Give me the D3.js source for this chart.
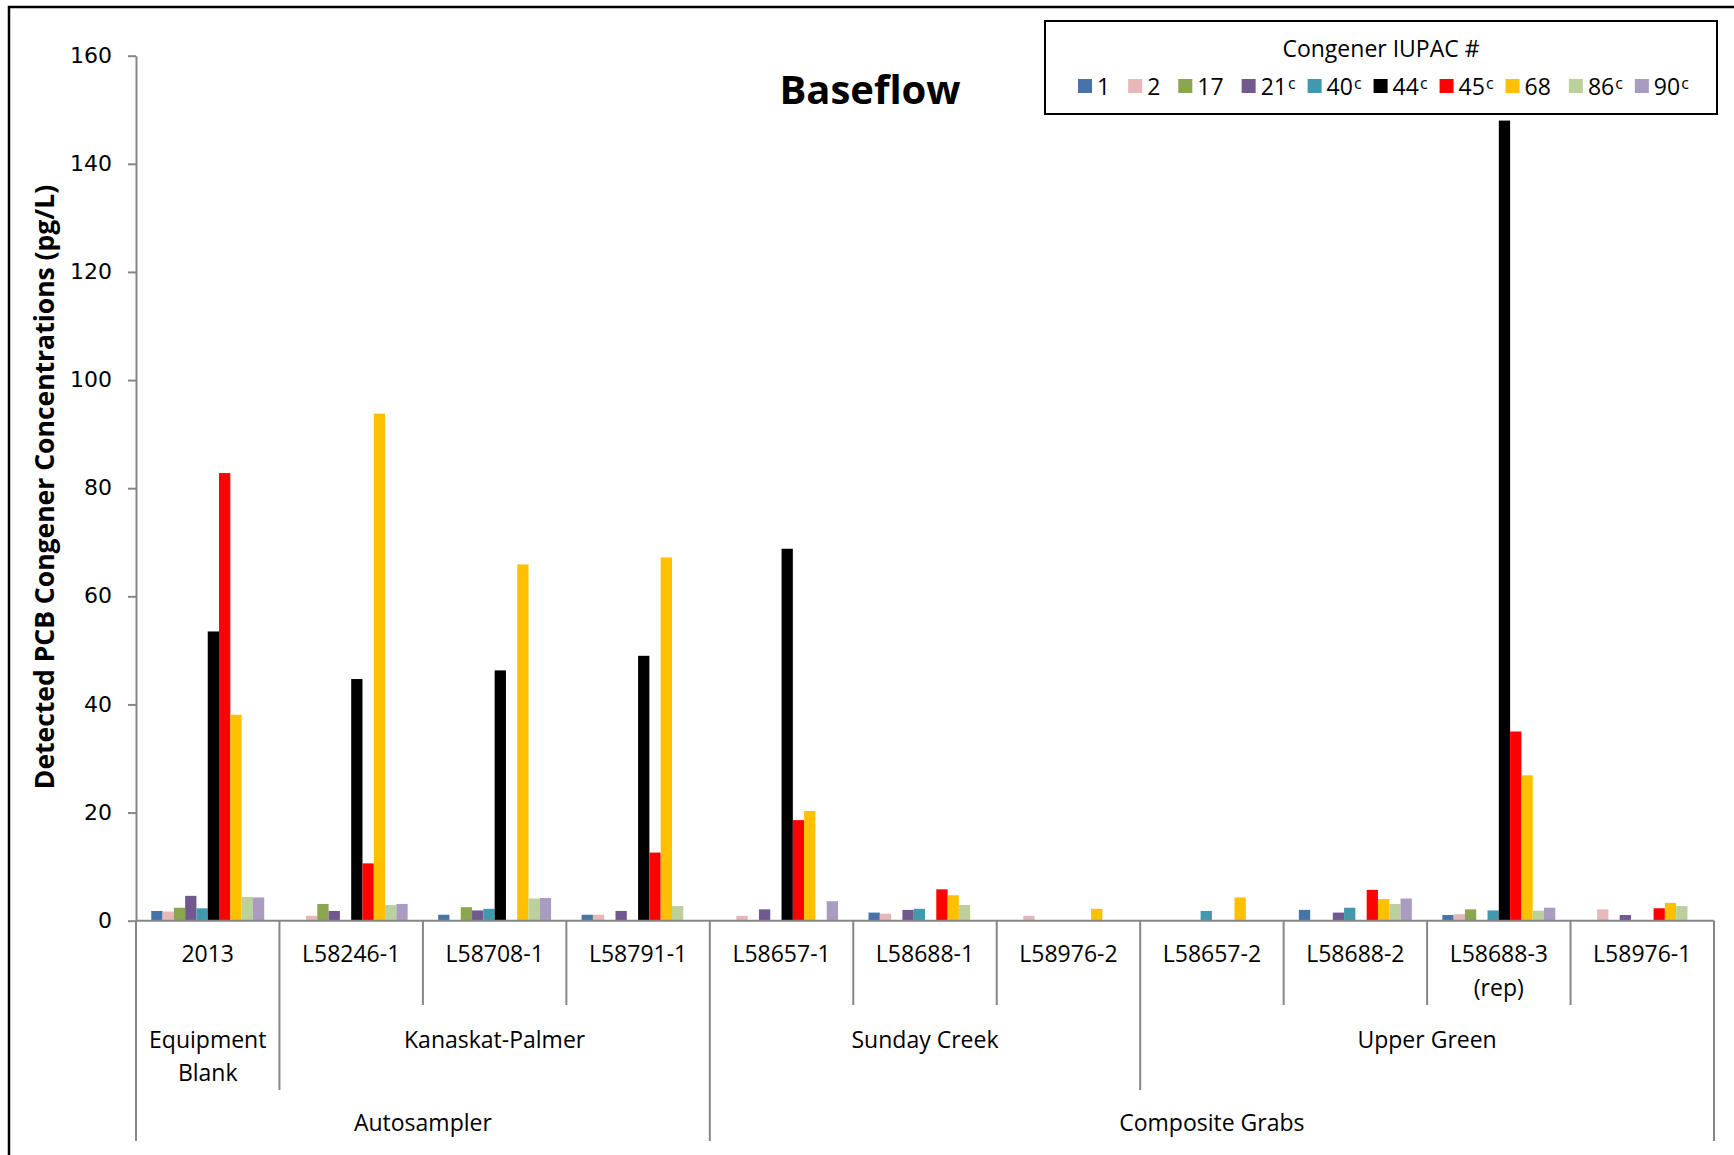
<!DOCTYPE html>
<html lang="en">
  <head>
    <meta charset="utf-8" />
    <title>Baseflow</title>
    <script type="text/javascript" src="https://d3js.org/d3.v7.min.js" charset="utf-8"></script>
    <style type="text/css">
      body { margin: 0; background: #fff; }
      text { font-family: "Open Sans", "Noto Sans", sans-serif; fill: #000; }
      .axis text { font-family: "DejaVu Sans", Verdana, sans-serif; font-size: 22px; }
      .axis path, .axis line { stroke: #868686; stroke-width: 2px; }
    </style>
  </head>
  <body>
    <script type="text/javascript">
      // sample labels (level 1), site groups (level 2), sampling method (level 3)
      var categories = ["2013", "L58246-1", "L58708-1", "L58791-1", "L58657-1", "L58688-1",
                        "L58976-2", "L58657-2", "L58688-2", "L58688-3 (rep)", "L58976-1"];
      var sites = [
        { name: "Equipment Blank", from: 0, to: 1 },
        { name: "Kanaskat-Palmer", from: 1, to: 4 },
        { name: "Sunday Creek", from: 4, to: 7 },
        { name: "Upper Green", from: 7, to: 11 }
      ];
      var methods = [
        { name: "Autosampler", from: 0, to: 4 },
        { name: "Composite Grabs", from: 4, to: 11 }
      ];

      var congeners = ["1", "2", "17", "21", "40", "44", "45", "68", "86", "90"];
      var coeluting = [false, false, false, true, true, true, true, false, true, true];
      var colours = ["#4674AA", "#E6B8B7", "#8AA64E", "#71598F", "#4298AF", "#000000",
                     "#FF0000", "#FFC000", "#BBD09A", "#AA9CC1"];

      // concentrations in pg/L, one array per congener, null = not detected
      var c1  = [1.8, null, 1.1, 1.1, null, 1.5, null, null, 2.0, 1.05, null];
      var c2  = [1.7, 0.9, null, 1.1, 0.9, 1.3, 0.9, null, null, 1.2, 2.1];
      var c17 = [2.4, 3.1, 2.5, null, null, null, null, null, null, 2.1, null];
      var c21 = [4.6, 1.8, 1.9, 1.8, 2.1, 2.0, null, null, 1.5, null, 1.05];
      var c40 = [2.3, null, 2.2, null, null, 2.2, null, 1.8, 2.4, 1.9, null];
      var c44 = [53.5, 44.7, 46.3, 49.0, 68.8, null, null, null, null, 148, null];
      var c45 = [82.8, 10.6, null, 12.6, 18.6, 5.8, null, null, 5.7, 35.0, 2.3];
      var c68 = [38.1, 93.8, 65.9, 67.2, 20.3, 4.7, 2.2, 4.3, 4.0, 26.9, 3.3];
      var c86 = [4.4, 2.9, 4.1, 2.7, null, 2.9, null, null, 3.1, 1.85, 2.7];
      var c90 = [4.3, 3.1, 4.2, null, 3.6, null, null, null, 4.1, 2.4, null];

      var yTicks = [0, 20, 40, 60, 80, 100, 120, 140, 160];

      var series = [c1, c2, c17, c21, c40, c44, c45, c68, c86, c90];

      var W = 1734, H = 1155;
      var plot = { left: 136, right: 1714, top: 55.7, bottom: 920.7 };

      var svg = d3.select("body").append("svg")
        .attr("width", W)
        .attr("height", H);

      // chart area frame (only left and top edges visible)
      svg.append("rect")
        .attr("x", 9).attr("y", 7)
        .attr("width", 1900).attr("height", 1300)
        .attr("fill", "none")
        .attr("stroke", "#000")
        .attr("stroke-width", 2.5);

      var x0 = d3.scaleBand()
        .domain(d3.range(categories.length))
        .range([plot.left, plot.right])
        .padding(0);

      var x1 = d3.scaleBand()
        .domain(congeners)
        .range([0, x0.bandwidth()])
        .paddingInner(0)
        .paddingOuter(1.35);

      var y = d3.scaleLinear()
        .domain([0, 160])
        .range([plot.bottom, plot.top]);

      // bars
      var bars = [];
      series.forEach(function (vals, k) {
        vals.forEach(function (v, i) {
          if (v != null) bars.push({ cat: i, congener: congeners[k], colour: colours[k], value: v });
        });
      });

      svg.append("g")
        .selectAll("rect")
        .data(bars)
        .join("rect")
        .attr("x", d => x0(d.cat) + x1(d.congener))
        .attr("y", d => y(d.value))
        .attr("width", x1.bandwidth())
        .attr("height", d => y(0) - y(d.value))
        .attr("fill", d => d.colour);

      // y axis
      var gY = svg.append("g")
        .attr("class", "axis")
        .attr("transform", `translate(${plot.left},0)`)
        .call(d3.axisLeft(y).tickValues(yTicks).tickSize(8).tickSizeOuter(0).tickPadding(16));
      gY.selectAll("text").attr("dy", "0.3em");

      // horizontal axis line
      svg.append("line")
        .attr("x1", plot.left).attr("x2", plot.right)
        .attr("y1", y(0)).attr("y2", y(0))
        .attr("stroke", "#868686").attr("stroke-width", 2);

      // multi-level category table below the axis
      var lvlEnd = [1005, 1090, 1141];
      var boundaries = d3.range(categories.length + 1).map(function (b) {
        var depth = lvlEnd[0];
        if (sites.some(s => s.from === b || s.to === b)) depth = lvlEnd[1];
        if (methods.some(m => m.from === b || m.to === b)) depth = lvlEnd[2];
        return { b: b, depth: depth };
      });
      var bx = b => (b < categories.length ? x0(b) : plot.right);

      svg.append("g")
        .selectAll("line")
        .data(boundaries)
        .join("line")
        .attr("x1", d => bx(d.b)).attr("x2", d => bx(d.b))
        .attr("y1", y(0)).attr("y2", d => d.depth)
        .attr("stroke", "#868686")
        .attr("stroke-width", 2);

      function multiLine(g, lines, cx, cy, lh) {
        var t = g.append("text")
          .attr("text-anchor", "middle")
          .attr("font-size", 23)
          .attr("dominant-baseline", "central");
        lines.forEach(function (ln, j) {
          t.append("tspan").attr("x", cx).attr("y", cy + j * lh).text(ln);
        });
      }

      var gLab = svg.append("g");
      categories.forEach(function (c, i) {
        var lines = c.indexOf(" (") > 0 ? [c.split(" ")[0], c.split(" ")[1]] : [c];
        multiLine(gLab, lines, x0(i) + x0.bandwidth() / 2, 953, 34);
      });
      sites.forEach(function (s) {
        var cx = (bx(s.from) + bx(s.to)) / 2;
        var lines = (s.to - s.from === 1) ? s.name.split(" ") : [s.name];
        multiLine(gLab, lines, cx, 1039, 33);
      });
      methods.forEach(function (m) {
        multiLine(gLab, [m.name], (bx(m.from) + bx(m.to)) / 2, 1122, 32);
      });

      // y axis title
      svg.append("text")
        .attr("transform", "translate(44,487) rotate(-90)")
        .attr("text-anchor", "middle")
        .attr("dominant-baseline", "central")
        .attr("font-size", 26.5)
        .attr("font-weight", "bold")
        .text("Detected PCB Congener Concentrations (pg/L)");

      // chart title
      svg.append("text")
        .attr("x", 870).attr("y", 104)
        .attr("text-anchor", "middle")
        .attr("font-size", 40)
        .attr("font-weight", "bold")
        .text("Baseflow");

      // legend
      var leg = svg.append("g");
      leg.append("rect")
        .attr("x", 1045).attr("y", 21)
        .attr("width", 672).attr("height", 93)
        .attr("fill", "#fff")
        .attr("stroke", "#000")
        .attr("stroke-width", 2);
      leg.append("text")
        .attr("x", 1381).attr("y", 48)
        .attr("text-anchor", "middle")
        .attr("dominant-baseline", "central")
        .attr("font-size", 23)
        .text("Congener IUPAC #");

      var cursor = 1078;
      congeners.forEach(function (c, k) {
        var item = leg.append("g");
        item.append("rect")
          .attr("x", cursor).attr("y", 79)
          .attr("width", 14).attr("height", 14)
          .attr("fill", colours[k]);
        var t = item.append("text")
          .attr("x", cursor + 19).attr("y", 95)
          .attr("font-size", 23);
        t.append("tspan").text(c);
        if (coeluting[k]) {
          t.append("tspan").attr("font-size", 16).attr("dy", -6).attr("dx", 1).text("c");
        }
        cursor += 19 + t.node().getComputedTextLength() + (coeluting[k] ? 13 : 18);
      });
    </script>
  </body>
</html>
